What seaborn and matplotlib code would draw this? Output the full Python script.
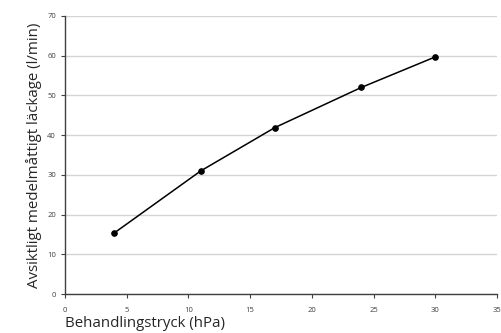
import pandas as pd
import seaborn as sns
import matplotlib.pyplot as plt

# Data
pressure_hpa = [4, 11, 17, 24, 30]
leak_lpm = [15.4, 31.0, 41.9, 52.0, 59.7]

df = pd.DataFrame({'Behandlingstryck': pressure_hpa, 'Läckage': leak_lpm})

sns.set_style('white')
plt.rcParams['font.family'] = ['Open Sans', 'DejaVu Sans']

fig = plt.figure(figsize=(5.02, 3.33), dpi=100)
ax = fig.add_axes([0.1295, 0.117, 0.8605, 0.835])

sns.lineplot(data=df, x='Behandlingstryck', y='Läckage', ax=ax,
             color='black', linewidth=1.1, marker='o', markersize=4,
             markeredgecolor='black', zorder=3)

ax.set_xlim(0, 35)
ax.set_ylim(0, 70)
ax.set_xticks(range(0, 36, 5))
ax.set_yticks(range(0, 71, 10))
ax.yaxis.grid(True, color='#d4d4d4', linewidth=1)
ax.xaxis.grid(False)

for side in ['top', 'right']:
    ax.spines[side].set_visible(False)
for side in ['left', 'bottom']:
    ax.spines[side].set_color('#404040')
    ax.spines[side].set_linewidth(1)

ax.tick_params(axis='both', labelsize=5.5, colors='#404040', length=3,
               width=0.8, direction='out', bottom=True, left=True)
ax.tick_params(axis='x', pad=6)

ax.set_xlabel('Behandlingstryck (hPa)', fontsize=10.8, loc='left', labelpad=2)
ax.set_ylabel('Avsiktligt medelmåttigt läckage (l/min)', fontsize=10.8, labelpad=4)

fig.savefig('out.png', dpi=100)
